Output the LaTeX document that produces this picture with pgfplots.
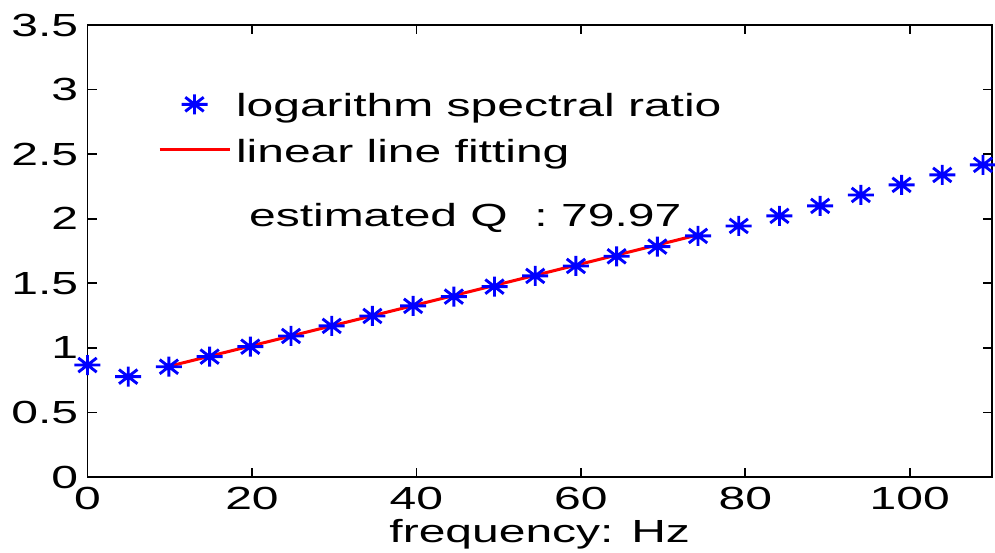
\documentclass[border=0pt]{standalone}
\usepackage{fontspec}
\setmainfont{Liberation Sans}[FakeStretch=1.5]
\usepackage{pgfplots}
\pgfplotsset{compat=1.18}
\pgfdeclareplotmark{mstar}{%
\pgfpathmoveto{\pgfqpoint{-6.5pt}{0pt}}\pgfpathlineto{\pgfqpoint{6.5pt}{0pt}}%
\pgfpathmoveto{\pgfqpoint{0pt}{-5pt}}\pgfpathlineto{\pgfqpoint{0pt}{5pt}}%
\pgfpathmoveto{\pgfqpoint{-4.6pt}{-3.54pt}}\pgfpathlineto{\pgfqpoint{4.6pt}{3.54pt}}%
\pgfpathmoveto{\pgfqpoint{-4.6pt}{3.54pt}}\pgfpathlineto{\pgfqpoint{4.6pt}{-3.54pt}}%
\pgfusepathqstroke}
\newcommand{\ff}{\fontsize{16pt}{19pt}\selectfont}
\pgfplotsset{
  legstar/.style={legend image code/.code={\path (0pt,0pt) (35pt,0pt); \draw[mark repeat=2,mark phase=2,##1] plot coordinates {(0pt,2.1pt) (17.5pt,2.1pt) (35pt,2.1pt)};}},
  legline/.style={legend image code/.code={\draw[##1] (0pt,2.35pt) -- (35pt,2.35pt);}},
}
\begin{document}
\begin{tikzpicture}
\begin{axis}[
  at={(0,0)}, anchor=south west,
  scale only axis, width=452.25pt, height=226pt,
  xmin=0, xmax=110, ymin=0, ymax=3.5,
  xtick={0,20,...,100}, ytick={0,0.5,...,3.5},
  tick align=inside, major tick length=4.5pt,
  axis line style={line width=0.85pt}, tick style={line width=0.85pt, black},
  /pgf/number format/assume math mode=true,
  yticklabel style={font=\ff, inner sep=0pt, xshift=-4.5pt, /pgf/number format/fixed},
  xticklabel style={font=\ff, inner sep=0pt, yshift=-5pt},
  xlabel={frequency: Hz},
  xlabel style={font=\ff, inner sep=0pt, at={(rel axis cs:0.5,0)}, anchor=base, yshift=-32.85pt},
  legend cell align=left,
  legend style={draw=none, fill=none, inner sep=0pt, outer sep=0pt, font=\ff,
    at={(rel axis cs:0,1)}, anchor=north west, xshift=35.25pt, yshift=-34.2pt,
    nodes={inner sep=0pt, text height=11.7pt, text depth=3.4pt},
    column sep=2.5pt, row sep=7.6pt},
]
\addplot[only marks, color={rgb,255:red,0;green,0;blue,255}, mark=mstar, mark options={line width=1.45pt}, legstar]
coordinates {
(0,0.867) (4.95,0.777) (9.9,0.854) (14.85,0.932) (19.8,1.009) (24.75,1.092)
(29.7,1.170) (34.65,1.247) (39.6,1.325) (44.55,1.397) (49.5,1.474) (54.45,1.557)
(59.4,1.634) (64.35,1.709) (69.3,1.784) (74.25,1.867) (79.2,1.944) (84.15,2.022)
(89.1,2.099) (94.05,2.184) (99.0,2.262) (103.95,2.339) (108.9,2.417)
};
\addlegendentry{logarithm spectral ratio}
\addplot[color={rgb,255:red,255;green,0;blue,0}, line width=1.5pt, legline]
coordinates {(9.9,0.857) (74.25,1.875)};
\addlegendentry{linear line fitting}
\node[font=\ff, inner sep=0pt, anchor=base west] at (axis cs:19.6,1.94) {estimated Q\ \ : 79.97};
\end{axis}
\pgfresetboundingbox
\path (-43.75pt,-37.5pt) rectangle (453.75pt,238.5pt);
\end{tikzpicture}
\end{document}
